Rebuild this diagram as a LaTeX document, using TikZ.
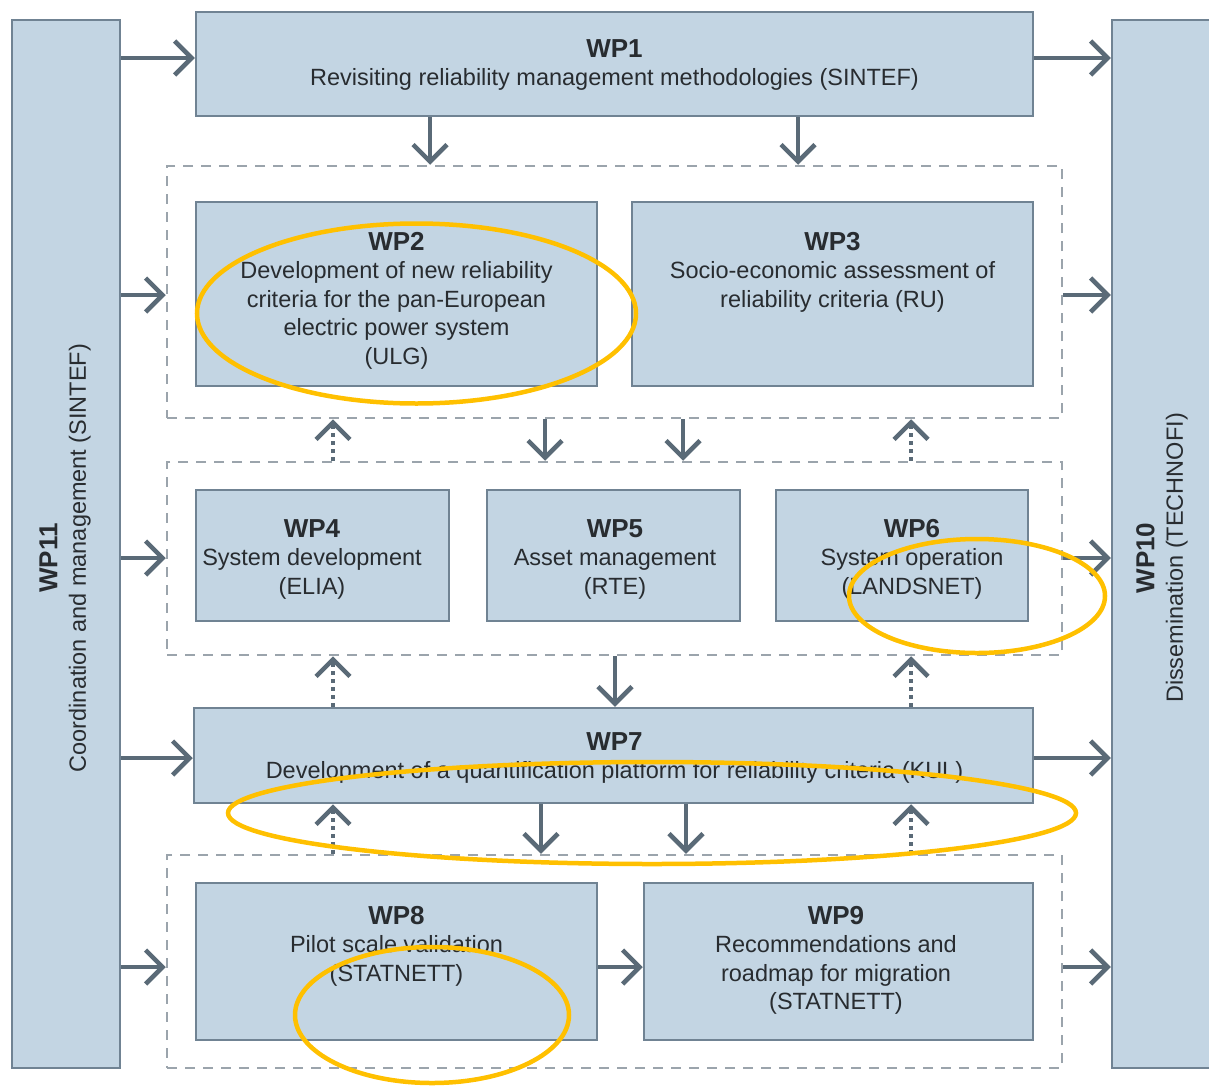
\documentclass[tikz,border=0pt]{standalone}
\usepackage{fontspec}
\setmainfont{Liberation Sans}
\usetikzlibrary{arrows.meta,calc}
\definecolor{boxfill}{RGB}{195,213,227}
\definecolor{boxline}{RGB}{112,131,147}
\definecolor{arrcol}{RGB}{90,106,119}
\definecolor{grpline}{RGB}{155,164,172}
\definecolor{txtcol}{RGB}{40,44,48}
\definecolor{hlcol}{RGB}{255,192,0}
\tikzset{
  wpbox/.style={draw=boxline, fill=boxfill, line width=2.5pt, inner sep=0pt},
  grpbox/.style={draw=grpline, line width=2.5pt, dash pattern=on 10pt off 8pt, inner sep=0pt},
  arr/.style={draw=arrcol, line width=4.5pt, -{Straight Barb[length=17pt,width=34pt]}},
  dotarr/.style={arr, dash pattern=on 4pt off 4pt},
  lbl/.style={text=txtcol, align=center, inner sep=0pt, font=\fontsize{23.5}{28.5}\selectfont},
  hl/.style={draw=hlcol, line width=4.5pt}
}
\newcommand{\wpt}[1]{{\bfseries\fontsize{26}{28.5}\selectfont #1}}
\begin{document}
\begin{tikzpicture}[x=1pt,y=-1pt]
\clip (0,0) rectangle (1209,1087);
\fill[white] (0,0) rectangle (1209,1087);
% side boxes
\node[wpbox, minimum width=108pt, minimum height=1048pt] (wp11) at (66,544) {};
\node[wpbox, minimum width=108pt, minimum height=1048pt] (wp10) at (1166,544) {};
% groups
\node[grpbox, minimum width=895pt, minimum height=252pt] (g1) at (614.5,292) {};
\node[grpbox, minimum width=895pt, minimum height=193pt] (g2) at (614.5,558.5) {};
\node[grpbox, minimum width=895pt, minimum height=213pt] (g3) at (614.5,961.5) {};
% boxes
\node[wpbox, minimum width=837pt, minimum height=104pt] (wp1) at (614.5,64) {};
\node[wpbox, minimum width=401pt, minimum height=184pt] (wp2) at (396.5,294) {};
\node[wpbox, minimum width=401pt, minimum height=184pt] (wp3) at (832.5,294) {};
\node[wpbox, minimum width=253pt, minimum height=131pt] (wp4) at (322.5,555.5) {};
\node[wpbox, minimum width=253pt, minimum height=131pt] (wp5) at (613.5,555.5) {};
\node[wpbox, minimum width=252pt, minimum height=131pt] (wp6) at (902,555.5) {};
\node[wpbox, minimum width=839pt, minimum height=95pt] (wp7) at (613.5,755.5) {};
\node[wpbox, minimum width=401pt, minimum height=157pt] (wp8) at (396.5,961.5) {};
\node[wpbox, minimum width=389pt, minimum height=157pt] (wp9) at (838.5,961.5) {};
% texts (anchor=base is the baseline of the last line)
\node[lbl, anchor=base] (t1) at (614.5,85.5) {\wpt{WP1}\\Revisiting reliability management methodologies (SINTEF)};
\node[lbl, anchor=base] (t2) at (396.5,364) {\wpt{WP2}\\Development of new reliability\\criteria for the pan-European\\electric power system\\(ULG)};
\node[lbl, anchor=base] (t3) at (832.5,307) {\wpt{WP3}\\Socio-economic assessment of\\reliability criteria (RU)};
\node[lbl, anchor=base] (t4) at (312,594) {\wpt{WP4}\\System development\\(ELIA)};
\node[lbl, anchor=base] (t5) at (615,594) {\wpt{WP5}\\Asset management\\(RTE)};
\node[lbl, anchor=base] (t6) at (912,594) {\wpt{WP6}\\System operation\\(LANDSNET)};
\node[lbl, anchor=base] (t7) at (614.5,778.5) {\wpt{WP7}\\Development of a quantification platform for reliability criteria (KUL)};
\node[lbl, anchor=base] (t8) at (396.5,981) {\wpt{WP8}\\Pilot scale validation\\(STATNETT)};
\node[lbl, anchor=base] (t9) at (836,1009.5) {\wpt{WP9}\\Recommendations and\\roadmap for migration\\(STATNETT)};
\node[lbl, rotate=90] (t11) at (65,558) {\wpt{WP11}\\Coordination and management (SINTEF)};
\node[lbl, rotate=90] (t10) at (1162,558) {\wpt{WP10}\\Dissemination (TECHNOFI)};
% row / column helpers
\coordinate (r1) at (0,58);
\coordinate (r2) at (0,295);
\coordinate (r3) at (0,558);
\coordinate (r4) at (0,758);
\coordinate (r5) at (0,967);
\coordinate (c1) at (430,0);
\coordinate (c2) at (798,0);
\coordinate (c3) at (333,0);
\coordinate (c4) at (911,0);
\coordinate (c5) at (545,0);
\coordinate (c6) at (683,0);
\coordinate (c7) at (615,0);
\coordinate (c8) at (541,0);
\coordinate (c9) at (686,0);
% left arrows
\draw[arr] (wp11.east |- r1) -- (wp1.west |- r1);
\draw[arr] (wp11.east |- r2) -- (g1.west |- r2);
\draw[arr] (wp11.east |- r3) -- (g2.west |- r3);
\draw[arr] (wp11.east |- r4) -- (wp7.west |- r4);
\draw[arr] (wp11.east |- r5) -- (g3.west |- r5);
% right arrows
\draw[arr] (wp1.east |- r1) -- (wp10.west |- r1);
\draw[arr] (g1.east |- r2) -- (wp10.west |- r2);
\draw[arr] (g2.east |- r3) -- (wp10.west |- r3);
\draw[arr] (wp7.east |- r4) -- (wp10.west |- r4);
\draw[arr] (g3.east |- r5) -- (wp10.west |- r5);
% vertical arrows
\draw[arr] (wp1.south -| c1) -- (g1.north -| c1);
\draw[arr] (wp1.south -| c2) -- (g1.north -| c2);
\draw[arr] (g1.south -| c5) -- (g2.north -| c5);
\draw[arr] (g1.south -| c6) -- (g2.north -| c6);
\draw[arr] (g2.south -| c7) -- (wp7.north -| c7);
\draw[arr] (wp7.south -| c8) -- (g3.north -| c8);
\draw[arr] (wp7.south -| c9) -- (g3.north -| c9);
\draw[dotarr] (g2.north -| c3) -- (g1.south -| c3);
\draw[dotarr] (g2.north -| c4) -- (g1.south -| c4);
\draw[dotarr] (wp7.north -| c3) -- (g2.south -| c3);
\draw[dotarr] (wp7.north -| c4) -- (g2.south -| c4);
\draw[dotarr] (g3.north -| c3) -- (wp7.south -| c3);
\draw[dotarr] (g3.north -| c4) -- (wp7.south -| c4);
\draw[arr] (wp8.east |- r5) -- (wp9.west |- r5);
% highlights
\draw[hl] (416.5,313.5) ellipse [x radius=219.5pt, y radius=90pt];
\draw[hl] (977,596) ellipse [x radius=128pt, y radius=57pt];
\draw[hl] (652,813) ellipse [x radius=424pt, y radius=51pt];
\draw[hl] (432,1015) ellipse [x radius=137pt, y radius=68pt];
\end{tikzpicture}
\end{document}
